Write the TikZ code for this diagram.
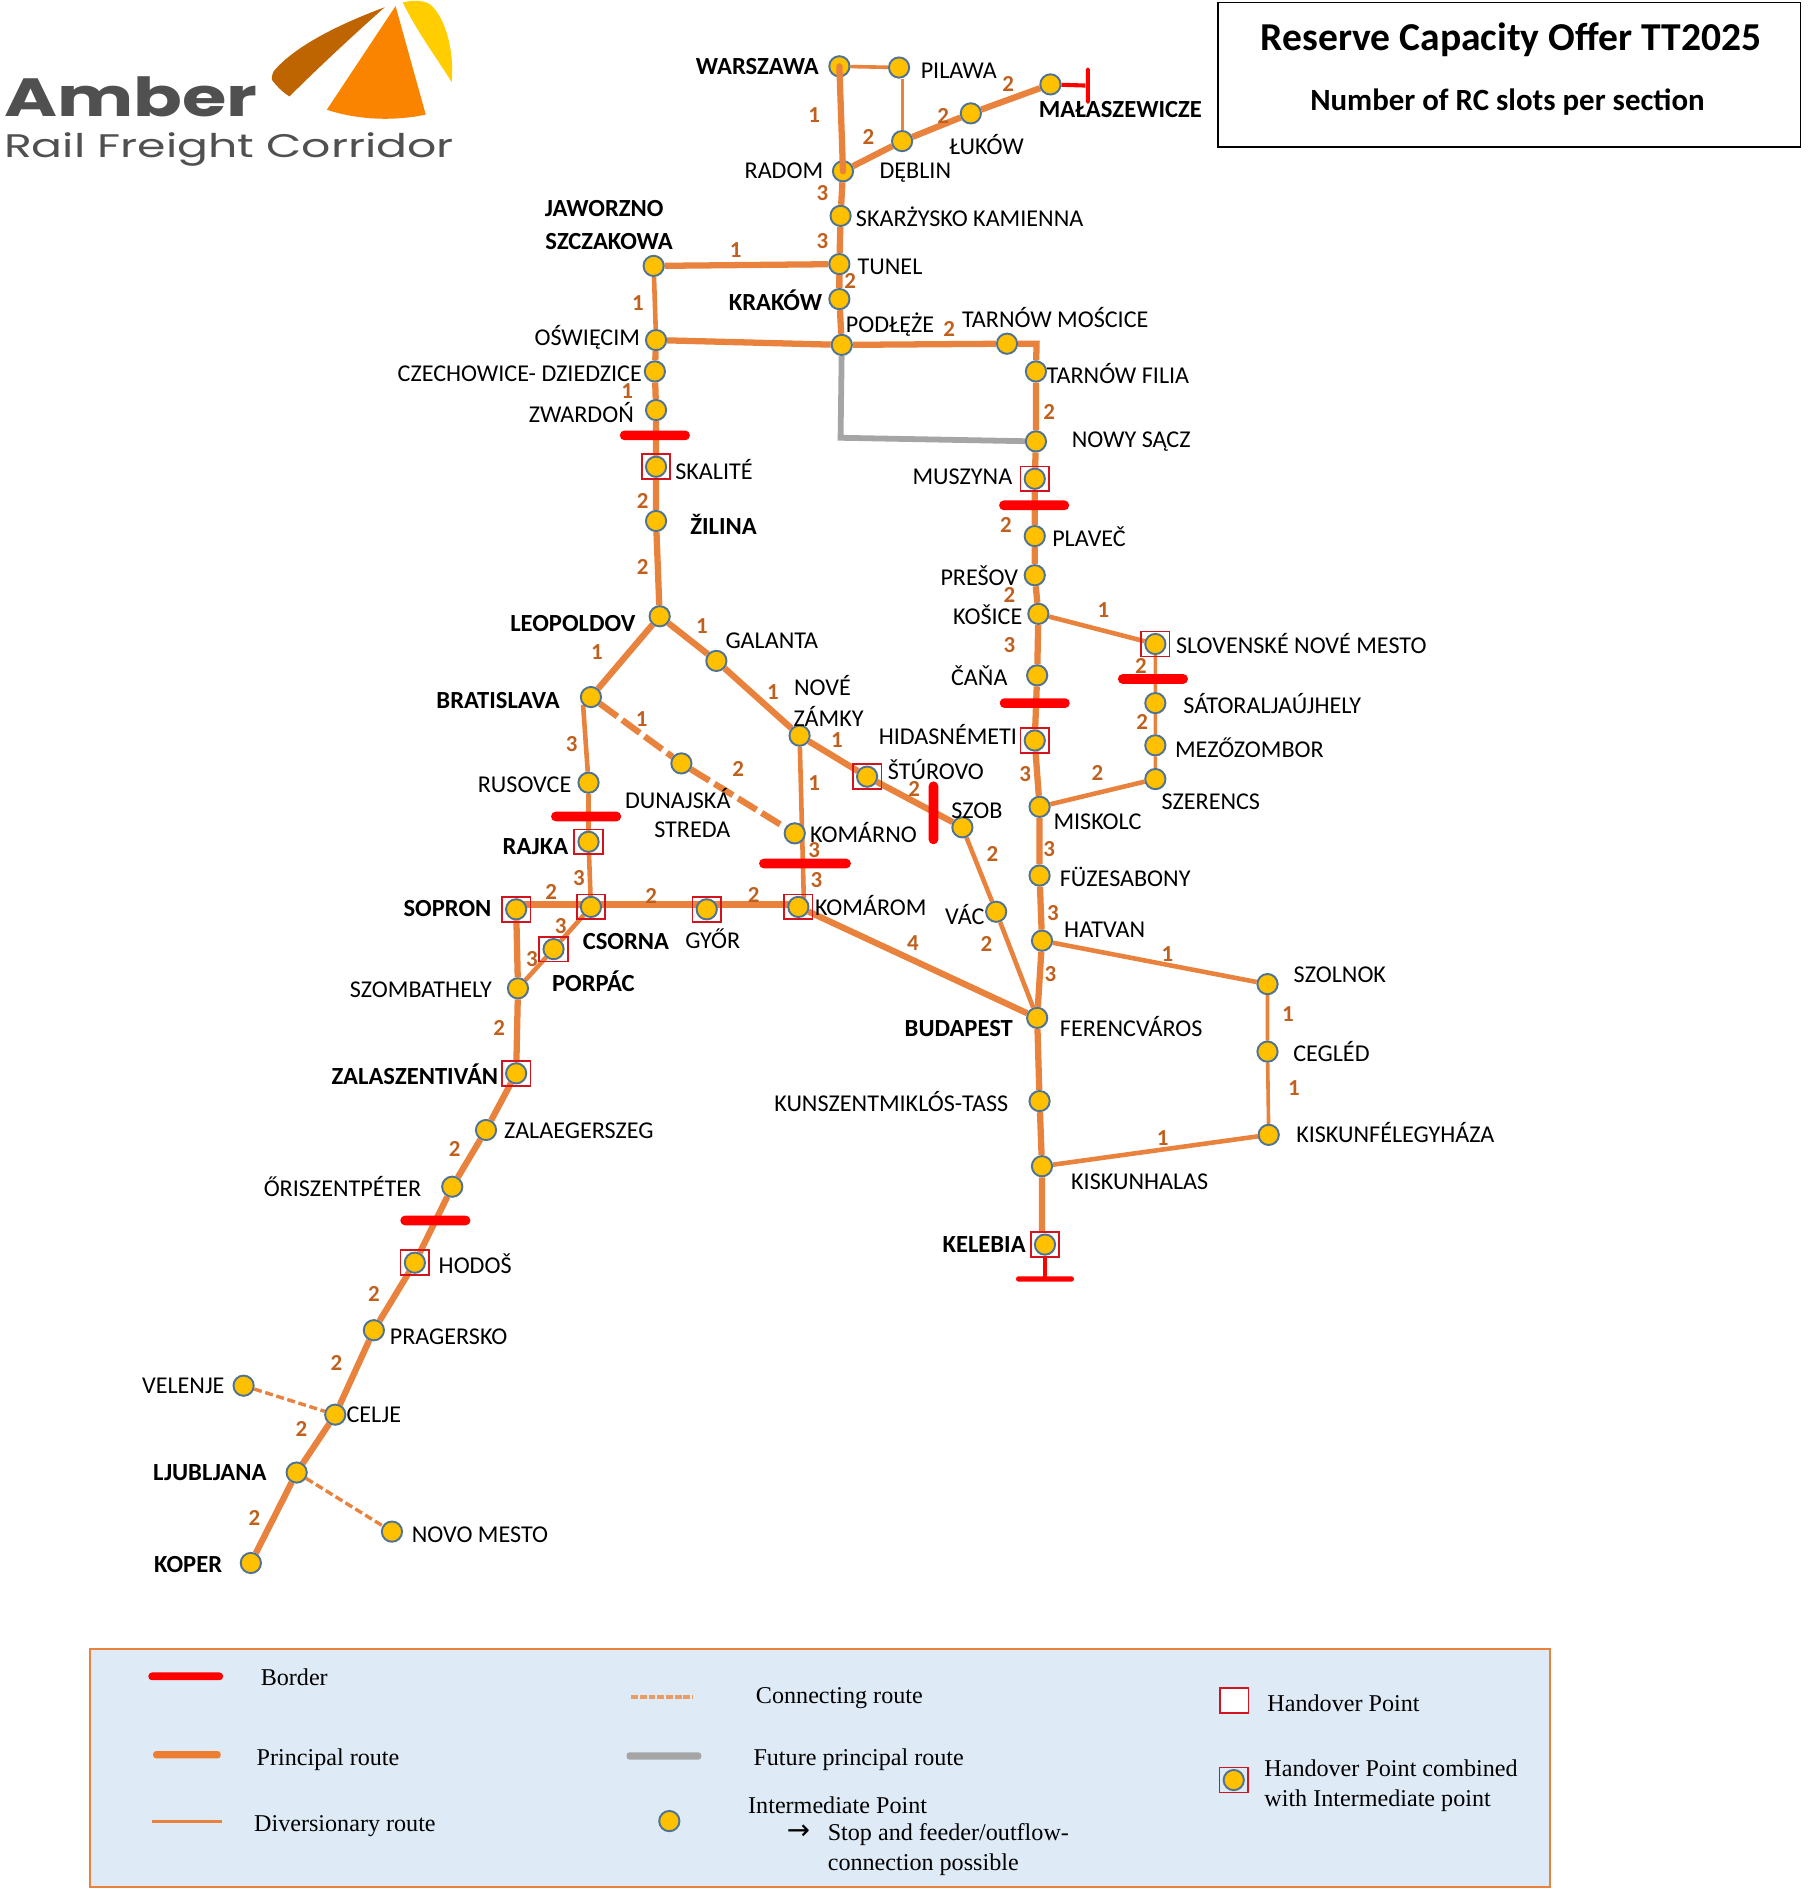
\documentclass[tikz,border=0pt]{standalone}
\usepackage{fontspec}
\usepackage{graphicx}
\setmainfont{Carlito}
\newfontfamily\serifleg{Liberation Serif}
\newfontfamily\logofont{Poppins}
\usetikzlibrary{backgrounds}
\definecolor{routeor}{HTML}{ED7D31}
\definecolor{routeline}{HTML}{E8823C}
\definecolor{numcol}{HTML}{C0601E}
\definecolor{ptfill}{HTML}{FFC000}
\definecolor{ptedge}{HTML}{4F7391}
\definecolor{hpred}{HTML}{D2141E}
\definecolor{legfill}{HTML}{DEEAF6}
\definecolor{logogrey}{HTML}{505050}
\definecolor{futgrey}{HTML}{A5A5A5}
\tikzset{
 pt/.style={circle,draw=ptedge,line width=0.8pt,fill=ptfill,minimum size=8.4pt,inner sep=0pt},
 hp/.style={rectangle,draw=hpred,line width=0.7pt,minimum width=11.8pt,minimum height=10.3pt,inner sep=0pt},
 lab/.style={font=\fontsize{10}{12}\selectfont,inner sep=0pt,text=black},
 blab/.style={font=\fontsize{10.2}{12}\selectfont\bfseries,inner sep=0pt,text=black},
 num/.style={font=\fontsize{9.5}{11}\selectfont\bfseries,inner sep=0pt,text=numcol},
 bar/.style={rectangle,rounded corners=1.9pt,fill=red,inner sep=0pt,minimum width=29pt,minimum height=4pt},
 vbar/.style={rectangle,rounded corners=1.9pt,fill=red,inner sep=0pt,minimum width=4pt,minimum height=26pt},
 prin/.style={draw=routeline,line width=2.6pt},
 mid/.style={draw=routeline,line width=1.9pt},
 dive/.style={draw=routeline,line width=1.5pt},
 thin/.style={draw=routeline,line width=1.2pt},
 futr/.style={draw=futgrey,line width=2.4pt},
 conn/.style={draw=routeline,line width=2.6pt,dash pattern=on 9pt off 2.5pt},
 connthin/.style={draw=routeline,line width=1.4pt,dash pattern=on 3.3pt off 1.5pt},
 stub/.style={draw=red,line width=1.7pt},
 leg/.style={font=\serifleg\fontsize{10}{12.2}\selectfont,inner sep=0pt,text=black,align=left},
}
\begin{document}
\begin{tikzpicture}[x=0.5pt,y=-0.5pt]
\useasboundingbox (0,0) rectangle (1499,1568);
% logo
\fill[fill={rgb,255:red,190;green,100;blue,0}] (319,6) .. controls (276,22) and (243,40) .. (227,59) .. controls (225,63) and (225,66) .. (226,67) .. controls (230,72) and (235,77) .. (240,80) .. controls (262,58) and (292,30) .. (319,6) -- cycle;
\fill[fill={rgb,255:red,250;green,132;blue,0}] (328,5) -- (271,91) .. controls (295,99) and (325,101) .. (353,95) -- cycle;
\fill[fill={rgb,255:red,255;green,205;blue,0}] (334,2) .. controls (342,0) and (352,0) .. (357,4) .. controls (370,15) and (377,45) .. (374.5,68) .. controls (362,48) and (345,25) .. (334,2) -- cycle;
\node[inner sep=0pt,anchor=base west,text=logogrey,font=\logofont\bfseries] (logoa) at (3,97) {\resizebox{105pt}{16.5pt}{Amber}};
\node[inner sep=0pt,anchor=base west,text=logogrey,font=\logofont] (logob) at (3,130.5) {\resizebox{186.5pt}{10.3pt}{Rail Freight Corridor}};
% title box
\node[draw=black,line width=0.7pt,minimum width=241.5pt,minimum height=60pt,inner sep=0pt] (titlebox) at (1251.5,62) {};
\node[inner sep=0pt,font=\fontsize{16.4}{20}\selectfont\bfseries] (t1) at (1253,33) {Reserve Capacity Offer TT2025};
\node[inner sep=0pt,font=\fontsize{12.8}{16}\selectfont\bfseries] (t2) at (1250,85) {Number of RC slots per section};
% points
\node[pt] (warszawa) at (696,55) {};
\node[pt] (pilawa) at (745.5,56) {};
\node[pt] (malas) at (871,70) {};
\node[pt] (lukow) at (805,94) {};
\node[pt] (deblin) at (748,117) {};
\node[pt] (radom) at (699,142) {};
\node[pt] (skarzysko) at (697,179) {};
\node[pt] (tunel) at (696,219) {};
\node[pt] (krakow) at (696,248) {};
\node[pt] (podleze) at (698,286) {};
\node[pt] (moscice) at (835,285) {};
\node[pt] (filia) at (859,308) {};
\node[pt] (nowysacz) at (859,366) {};
\node[hp] (muszynah) at (858,397) {};
\node[pt] (muszyna) at (858,397) {};
\node[pt] (plavec) at (858,444.5) {};
\node[pt] (presov) at (858,477) {};
\node[pt] (kosice) at (861,509) {};
\node[pt] (cana) at (860,560) {};
\node[hp] (hidash) at (858,614) {};
\node[pt] (hidas) at (858,614) {};
\node[pt] (miskolc) at (862,669) {};
\node[pt] (fuzes) at (862,726) {};
\node[pt] (hatvan) at (864,780) {};
\node[pt] (budapest) at (860,844) {};
\node[pt] (kunszent) at (862,913) {};
\node[pt] (halas) at (864,967) {};
\node[hp] (kelebiah) at (866.5,1032) {};
\node[pt] (kelebia) at (866.5,1032) {};
\node[pt] (jaworzno) at (542,220.5) {};
\node[pt] (oswiecim) at (544,282) {};
\node[pt] (czech) at (543,308) {};
\node[pt] (zwardon) at (544,340) {};
\node[hp] (skaliteh) at (544,387) {};
\node[pt] (skalite) at (544,387) {};
\node[pt] (zilina) at (544,432) {};
\node[pt] (leopoldov) at (547,511) {};
\node[pt] (galanta) at (594,548) {};
\node[pt] (nove) at (663,610) {};
\node[hp] (sturovoh) at (719,644) {};
\node[pt] (sturovo) at (719,644) {};
\node[pt] (szob) at (798,686) {};
\node[pt] (vac) at (826,756) {};
\node[pt] (bratislava) at (490,578) {};
\node[pt] (dunajska) at (565,633) {};
\node[pt] (komarno) at (659,691) {};
\node[hp] (komaromh) at (662,752) {};
\node[pt] (komarom) at (662,752) {};
\node[hp] (gyorh) at (586,754) {};
\node[pt] (gyor) at (586,754) {};
\node[hp] (csornah) at (490,752) {};
\node[pt] (csorna) at (490,752) {};
\node[hp] (sopronh) at (428,754) {};
\node[pt] (sopron) at (428,754) {};
\node[pt] (rusovce) at (488,649) {};
\node[hp] (rajkah) at (488,698) {};
\node[pt] (rajka) at (488,698) {};
\node[hp] (porpach) at (459,787) {};
\node[pt] (porpac) at (459,787) {};
\node[pt] (szomb) at (429.5,819.5) {};
\node[hp] (zalaszh) at (428,890) {};
\node[pt] (zalasz) at (428,890) {};
\node[pt] (zalaeg) at (403,937) {};
\node[pt] (oriszent) at (375,984) {};
\node[hp] (hodosh) at (344,1047) {};
\node[pt] (hodos) at (344,1047) {};
\node[pt] (pragersko) at (310,1103) {};
\node[pt] (celje) at (278,1173) {};
\node[pt] (velenje) at (202,1149) {};
\node[pt] (ljubljana) at (246,1221) {};
\node[pt] (novomesto) at (325,1270) {};
\node[pt] (koper) at (208,1296) {};
\node[hp] (slovenskeh) at (958,534) {};
\node[pt] (slovenske) at (958,534) {};
\node[pt] (sator) at (958,583) {};
\node[pt] (mezo) at (958,618) {};
\node[pt] (szerencs) at (958,646) {};
\node[pt] (szolnok) at (1051,816) {};
\node[pt] (cegled) at (1051,872) {};
\node[pt] (felegy) at (1052,941) {};
% corners and junctions
\coordinate (cornerT) at (859.5,285);
\coordinate (cornerG) at (697,363);
\coordinate (kmjoin) at (666.5,745);
\coordinate (hline) at (500,750);
% borders
\node[bar] (b1) at (543,361) {};
\node[bar] (b2) at (857.5,419) {};
\node[bar] (b3) at (858,583) {};
\node[bar] (b4) at (956,563) {};
\node[vbar] (b5) at (774,674) {};
\node[bar] (b6) at (486,677) {};
\node[bar,minimum width=38pt] (b7) at (667.5,716) {};
\node[bar] (b8) at (361,1012) {};
\node[bar,minimum width=24pt,minimum height=2.2pt,rounded corners=1pt] (b9) at (866.5,1060.5) {};
\node[vbar,minimum width=1.6pt,minimum height=15pt,rounded corners=0.7pt] (b10) at (902,71) {};
% routes
\begin{scope}[on background layer]
\draw[dive] (warszawa) -- (pilawa);
\draw[thin] (deblin) -- (deblin |- pilawa.south);
\draw[stub] (malas) -- (b10);
\path[prin] (radom) -- (deblin) (deblin) -- (lukow) (lukow) -- (malas) (radom) -- (skarzysko) (skarzysko) -- (tunel) (tunel) -- (krakow) (krakow) -- (podleze) (jaworzno) -- (tunel) (oswiecim) -- (podleze) (podleze) -- (moscice);
\draw[mid] (jaworzno) -- (oswiecim);
\path[prin] (moscice) -- (cornerT) -- (filia);
\path[futr] (podleze) -- (cornerG) -- (nowysacz);
\path[prin] (oswiecim) -- (czech) (czech) -- (zwardon) (zwardon) -- (skalite) (skalite) -- (zilina) (zilina) -- (leopoldov);
\path[prin] (filia) -- (nowysacz) (nowysacz) -- (muszyna) (muszyna) -- (plavec) (plavec) -- (presov) (presov) -- (kosice) (kosice) -- (cana) (cana) -- (hidas) (hidas) -- (miskolc) (miskolc) -- (fuzes) (fuzes) -- (hatvan) (hatvan) -- (budapest) (budapest) -- (kunszent) (kunszent) -- (halas) (halas) -- (halas |- kelebiah.north);
\draw[stub] (kelebiah.south) -- (kelebiah.south |- b9);
\path[mid] (kosice) -- (slovenske) (szerencs) -- (miskolc) (hatvan) -- (szolnok) (felegy) -- (halas);
\path[dive] (slovenske) -- (sator) (sator) -- (mezo) (mezo) -- (szerencs) (szolnok) -- (cegled) (cegled) -- (felegy);
\path[prin] (leopoldov) -- (bratislava) (leopoldov) -- (galanta) (galanta) -- (nove) (nove) -- (sturovo) (sturovo) -- (szob) (komarom) -- (budapest);
\path[mid] (szob) -- (vac) (vac) -- (budapest) (nove) -- (kmjoin) (bratislava.south west) -- (rusovce) (rusovce) -- (rajka) (rajka) -- (csorna) (csorna) -- (porpac) (porpac) -- (szomb);
\path[conn] (bratislava) -- (dunajska);
\path[conn] (dunajska) -- (komarno);
\path[prin] (sopron |- hline) -- (komarom |- hline);
\path[prin] (sopron) -- (szomb) (szomb) -- (zalasz) (zalasz) -- (zalaeg) (zalaeg) -- (oriszent) (oriszent) -- (hodos) (hodos) -- (pragersko) (pragersko) -- (celje) (celje) -- (ljubljana) (ljubljana) -- (koper);
\path[connthin] (velenje) -- (celje);
\path[connthin] (ljubljana) -- (novomesto);
\end{scope}
% the Warszawa - Radom line lies over its two points
\draw[prin,line cap=round] (warszawa.center) -- (radom.center);
% labels
\node[blab] (l1) at (628,55) {WARSZAWA};
\node[lab] (l2) at (795,59) {PILAWA};
\node[blab] (l3) at (929,91) {MAŁASZEWICZE};
\node[lab] (l4) at (818,120) {ŁUKÓW};
\node[lab] (l5) at (650,142) {RADOM};
\node[lab] (l6) at (759,143) {DĘBLIN};
\node[lab] (l7) at (804,180) {SKARŻYSKO KAMIENNA};
\node[lab] (l8) at (738,221) {TUNEL};
\node[blab] (l9) at (643,249) {KRAKÓW};
\node[lab] (l10) at (738,269) {PODŁĘŻE};
\node[lab] (l11) at (875,263) {TARNÓW MOŚCICE};
\node[lab] (l12) at (927,310) {TARNÓW FILIA};
\node[lab] (l13) at (938,366) {NOWY SĄCZ};
\node[lab] (l14) at (798,395) {MUSZYNA};
\node[lab] (l15) at (903,445) {PLAVEČ};
\node[lab] (l16) at (812,477) {PREŠOV};
\node[lab] (l17) at (819,510) {KOŠICE};
\node[lab] (l18) at (812,560) {ČAŇA};
\node[lab] (l19) at (1079,534) {SLOVENSKÉ NOVÉ MESTO};
\node[lab] (l20) at (1055,583) {SÁTORALJAÚJHELY};
\node[lab] (l21) at (1036,620) {MEZŐZOMBOR};
\node[lab] (l22) at (1004,665) {SZERENCS};
\node[lab] (l23) at (786,609) {HIDASNÉMETI};
\node[lab] (l24) at (910,681) {MISKOLC};
\node[lab] (l25) at (933,727) {FÜZESABONY};
\node[lab] (l26) at (916,771) {HATVAN};
\node[lab] (l27) at (1111,808) {SZOLNOK};
\node[lab] (l28) at (1104,872) {CEGLÉD};
\node[lab] (l29) at (1157,939) {KISKUNFÉLEGYHÁZA};
\node[lab] (l30) at (945,980) {KISKUNHALAS};
\node[lab] (l31) at (739,913) {KUNSZENTMIKLÓS-TASS};
\node[lab] (l32) at (938,851) {FERENCVÁROS};
\node[blab] (l33) at (795,853) {BUDAPEST};
\node[blab] (l34) at (816,1032) {KELEBIA};
\node[blab] (l35) at (501,173) {JAWORZNO};
\node[blab] (l36) at (505,200) {SZCZAKOWA};
\node[lab] (l37) at (487,280) {OŚWIĘCIM};
\node[lab] (l38) at (431,310) {CZECHOWICE- DZIEDZICE};
\node[lab] (l39) at (482,342) {ZWARDOŃ};
\node[lab] (l40) at (592,389) {SKALITÉ};
\node[blab] (l41) at (600,435) {ŽILINA};
\node[blab] (l42) at (475,517) {LEOPOLDOV};
\node[lab] (l43) at (640,531) {GALANTA};
\node[blab] (l44) at (413,581) {BRATISLAVA};
\node[lab] (l45) at (682,568) {NOVÉ};
\node[lab] (l46) at (687,594) {ZÁMKY};
\node[lab] (l47) at (776,638) {ŠTÚROVO};
\node[lab] (l48) at (435,651) {RUSOVCE};
\node[lab] (l49) at (562,662) {DUNAJSKÁ};
\node[lab] (l50) at (810,672) {SZOB};
\node[lab] (l51) at (574,688) {STREDA};
\node[lab] (l52) at (716,690) {KOMÁRNO};
\node[blab] (l53) at (444,702) {RAJKA};
\node[blab] (l54) at (371,753) {SOPRON};
\node[lab] (l55) at (722,751) {KOMÁROM};
\node[lab] (l56) at (800,758) {VÁC};
\node[blab] (l57) at (519,781) {CSORNA};
\node[lab] (l58) at (591,778) {GYŐR};
\node[blab] (l59) at (492,814) {PORPÁC};
\node[lab] (l60) at (349,821) {SZOMBATHELY};
\node[blab] (l61) at (344,891) {ZALASZENTIVÁN};
\node[lab] (l62) at (480,938) {ZALAEGERSZEG};
\node[lab] (l63) at (284,984) {ŐRISZENTPÉTER};
\node[lab] (l64) at (394,1048) {HODOŠ};
\node[lab] (l65) at (372,1108) {PRAGERSKO};
\node[lab] (l66) at (152,1149) {VELENJE};
\node[lab] (l67) at (310,1173) {CELJE};
\node[blab] (l68) at (174,1221) {LJUBLJANA};
\node[lab] (l69) at (398,1273) {NOVO MESTO};
\node[blab] (l70) at (156,1297) {KOPER};
% numbers
\node[num] (n1) at (836,70) {2};
\node[num] (n2) at (782,96) {2};
\node[num] (n3) at (720,114) {2};
\node[num] (n4) at (675,95) {1};
\node[num] (n5) at (682,160) {3};
\node[num] (n6) at (682,200) {3};
\node[num] (n7) at (705,233) {2};
\node[num] (n8) at (787,273) {2};
\node[num] (n9) at (870,342) {2};
\node[num] (n10) at (834,435) {2};
\node[num] (n11) at (837,493) {2};
\node[num] (n12) at (915,506) {1};
\node[num] (n13) at (837,535) {3};
\node[num] (n14) at (946,552) {2};
\node[num] (n15) at (947,599) {2};
\node[num] (n16) at (910,641) {2};
\node[num] (n17) at (850,642) {3};
\node[num] (n18) at (870,704) {3};
\node[num] (n19) at (873,757) {3};
\node[num] (n20) at (968,791) {1};
\node[num] (n21) at (871,808) {3};
\node[num] (n22) at (1068,841) {1};
\node[num] (n23) at (1073,902) {1};
\node[num] (n24) at (964,944) {1};
\node[num] (n25) at (610,207) {1};
\node[num] (n26) at (529,251) {1};
\node[num] (n27) at (520,324) {1};
\node[num] (n28) at (533,415) {2};
\node[num] (n29) at (533,470) {2};
\node[num] (n30) at (582,519) {1};
\node[num] (n31) at (495,541) {1};
\node[num] (n32) at (641,574) {1};
\node[num] (n33) at (532,596) {1};
\node[num] (n34) at (694,614) {1};
\node[num] (n35) at (474,617) {3};
\node[num] (n36) at (612,638) {2};
\node[num] (n37) at (675,649) {1};
\node[num] (n38) at (758,654) {2};
\node[num] (n39) at (675,705) {3};
\node[num] (n40) at (823,708) {2};
\node[num] (n41) at (480,728) {3};
\node[num] (n42) at (677,730) {3};
\node[num] (n43) at (457,740) {2};
\node[num] (n44) at (540,743) {2};
\node[num] (n45) at (625,742) {2};
\node[num] (n46) at (465,768) {3};
\node[num] (n47) at (757,782) {4};
\node[num] (n48) at (818,783) {2};
\node[num] (n49) at (441,795) {3};
\node[num] (n50) at (414,852) {2};
\node[num] (n51) at (377,953) {2};
\node[num] (n52) at (310,1073) {2};
\node[num] (n53) at (279,1130) {2};
\node[num] (n54) at (250,1185) {2};
\node[num] (n55) at (211,1259) {2};
% legend
\node[draw=routeline,line width=0.8pt,fill=legfill,minimum width=605pt,minimum height=99pt,inner sep=0pt] (legbox) at (680,1466) {};
\node[bar,minimum width=31pt,minimum height=3.2pt,rounded corners=1.5pt] (s1) at (154,1390) {};
\node[rectangle,fill=routeor,rounded corners=1.2pt,minimum width=28pt,minimum height=3pt,inner sep=0pt] (s2) at (155,1455) {};
\node[rectangle,fill=routeline,minimum width=29pt,minimum height=1.2pt,inner sep=0pt] (s3) at (155,1510) {};
\coordinate (s4a) at (523.5,1407);
\coordinate (s4b) at (575,1407);
\draw[draw=routeline!80!white,line width=1.5pt,dash pattern=on 2.8pt off 0.8pt] (s4a) -- (s4b);
\node[rectangle,fill=futgrey,rounded corners=1.2pt,minimum width=31pt,minimum height=3pt,inner sep=0pt] (s5) at (550.5,1456) {};
\node[pt] (s6) at (555,1510) {};
\node[hp,fill=white] (s7) at (1023.5,1410) {};
\node[hp] (s8h) at (1023,1476) {};
\node[pt] (s8) at (1023,1476) {};
\node[leg] (g1) at (244,1391) {Border};
\node[leg] (g2) at (272,1459) {Principal route};
\node[leg] (g3) at (286,1514) {Diversionary route};
\node[leg] (g4) at (696,1408) {Connecting route};
\node[leg] (g5) at (712,1459) {Future principal route};
\node[leg,anchor=west] (g6) at (620,1497) {Intermediate Point};
\node[inner sep=0pt,font=\fontsize{11.5}{12}\selectfont] (g7) at (662,1519) {\fontspec{DejaVu Sans}→};
\node[leg,anchor=north west] (g8) at (686,1512) {Stop and feeder/outflow-\\connection possible};
\node[leg] (g9) at (1114,1412) {Handover Point};
\node[leg,anchor=north west] (g10) at (1048,1459) {Handover Point combined\\with Intermediate point};
\end{tikzpicture}
\end{document}
